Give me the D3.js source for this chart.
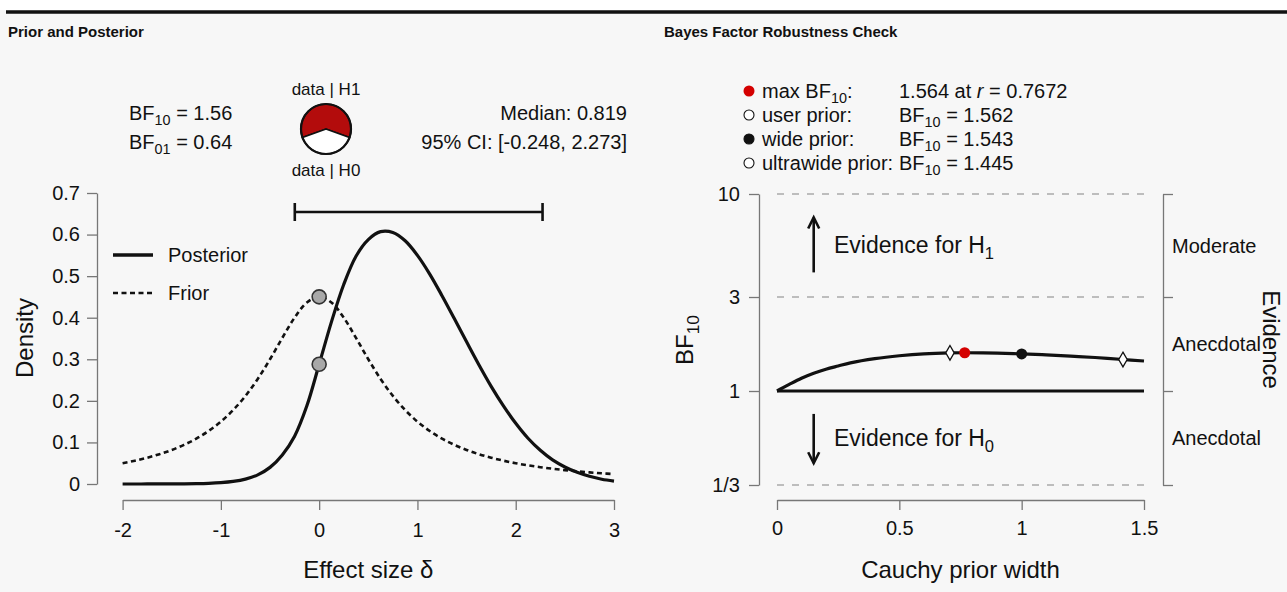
<!DOCTYPE html>
<html><head><meta charset="utf-8">
<script src="https://cdn.jsdelivr.net/npm/d3@7"></script>
<style>
html,body{margin:0;padding:0;background:#fff;}
svg{display:block;}
</style></head><body>
<svg id="chart" width="1287" height="592"></svg>
<script>
// ---------- DATA ----------
const deltaGrid = [-2, -1.875, -1.75, -1.625, -1.5, -1.375, -1.25, -1.125, -1, -0.875, -0.75, -0.625, -0.5, -0.375, -0.25, -0.125, 0,
  0.125, 0.25, 0.375, 0.5, 0.625, 0.75, 0.875, 1, 1.125, 1.25, 1.375, 1.5, 1.625, 1.75, 1.875, 2, 2.125, 2.25, 2.375, 2.5, 2.625, 2.75, 2.875, 3];
const priorDensity = [0.0500, 0.0561, 0.0632, 0.0717, 0.0819, 0.0942, 0.1091, 0.1275, 0.1501, 0.1779, 0.2119, 0.2527, 0.3001, 0.3514, 0.4002, 0.4366, 0.4502,
  0.4366, 0.4002, 0.3514, 0.3001, 0.2527, 0.2119, 0.1779, 0.1501, 0.1275, 0.1091, 0.0942, 0.0819, 0.0717, 0.0632, 0.0561, 0.0500, 0.0449, 0.0405, 0.0367, 0.0333, 0.0305, 0.0279, 0.0257, 0.0237];
const posteriorDensity = [0.0000, 0.0000, 0.0001, 0.0001, 0.0002, 0.0004, 0.0008, 0.0016, 0.0032, 0.0062, 0.0118, 0.0220, 0.0400, 0.0700, 0.1150, 0.1880, 0.2880,
  0.3900, 0.4800, 0.5480, 0.5880, 0.6070, 0.6050, 0.5850, 0.5500, 0.5050, 0.4530, 0.3980, 0.3420, 0.2870, 0.2350, 0.1880, 0.1460, 0.1100, 0.0810, 0.0580, 0.0410, 0.0280, 0.0185, 0.0115, 0.0070];
const densityAtZero = [0.4502, 0.2880];           // prior, posterior at delta = 0
const credibleInterval = [-0.248, 2.273];
const posteriorMedian = 0.819;
const bf10Value = 1.56;
const bf01Value = 0.64;
const leftXTicks = [-2, -1, 0, 1, 2, 3];
const leftYTicks = [0, 0.1, 0.2, 0.3, 0.4, 0.5, 0.6, 0.7];
const legendNames = ["Posterior", "Frior"];

const priorWidths = [0, 0.025, 0.05, 0.1, 0.15, 0.2, 0.25, 0.3, 0.4, 0.5, 0.6, 0.707, 0.7672, 0.9, 1.0, 1.1, 1.2, 1.3, 1.414, 1.5];
const bfRobustness = [1.0, 1.04, 1.08, 1.16, 1.23, 1.29, 1.34, 1.39, 1.46, 1.51, 1.545, 1.562, 1.564, 1.556, 1.543, 1.525, 1.503, 1.479, 1.445, 1.42];
const markerNames = ["max BF10", "user prior", "wide prior", "ultrawide prior"];
const markerR = [0.7672, 0.707, 1, 1.414];
const markerBF = [1.564, 1.562, 1.543, 1.445];
const rightXTicks = [0, 0.5, 1, 1.5];
const rightYTicks = [10, 3, 1, 1/3];
const rightYTickLabels = ["10", "3", "1", "1/3"];
const evidenceBreaks = [10, 3, 1, 1/3];
const evidenceLabels = ["Moderate", "Anecdotal", "Anecdotal"];

// ---------- DRAW ----------
const FONT = '"Liberation Sans", Arial, Helvetica, sans-serif';
const AXC = "#777";
const TXT = "#111";
const svg = d3.select("#chart").attr("font-family", FONT);

svg.append("rect").attr("width", 1287).attr("height", 592).attr("fill", "#f7f7f7");
svg.append("rect").attr("width", 1287).attr("height", 10).attr("fill", "#ffffff");
svg.append("line").attr("x1", 6).attr("x2", 1287).attr("y1", 12).attr("y2", 12)
  .attr("stroke", "#111").attr("stroke-width", 3.5);

svg.append("text").attr("x", 8).attr("y", 37).attr("font-size", 15).attr("font-weight", "bold")
  .attr("fill", TXT).text("Prior and Posterior");
svg.append("text").attr("x", 664).attr("y", 37).attr("font-size", 15).attr("font-weight", "bold")
  .attr("fill", TXT).text("Bayes Factor Robustness Check");

// helper for text with subscripts
function richText(g, x, y, parts, fs, anchor) {
  const t = g.append("text").attr("x", x).attr("y", y).attr("font-size", fs)
    .attr("fill", TXT).attr("text-anchor", anchor || "start");
  let shifted = false;
  parts.forEach(p => {
    const s = t.append("tspan").text(p[0]);
    if (p[1] === "sub") {
      s.attr("font-size", fs * 0.72).attr("dy", shifted ? 0 : fs * 0.24);
      shifted = true;
    } else {
      if (shifted) { s.attr("dy", -fs * 0.24); shifted = false; }
      if (p[1] === "it") s.attr("font-style", "italic");
    }
  });
  return t;
}

function styleAxis(g, fs) {
  g.attr("font-family", FONT).attr("font-size", fs);
  g.select(".domain").attr("stroke", AXC).attr("stroke-width", 1.3);
  g.selectAll(".tick line").attr("stroke", AXC).attr("stroke-width", 1.3);
  g.selectAll(".tick text").attr("fill", TXT);
}

// ===== LEFT PANEL =====
const xL = d3.scaleLinear().domain([-2, 3]).range([122.6, 614]);
const yL = d3.scaleLinear().domain([0, 0.7]).range([484, 193]);

svg.append("g").attr("transform", "translate(97,0)")
  .call(d3.axisLeft(yL).tickValues(leftYTicks).tickSize(10).tickSizeOuter(0).tickPadding(7)
    .tickFormat(d => d === 0 ? "0" : d3.format(".1f")(d)))
  .call(g => styleAxis(g, 20));
svg.append("g").attr("transform", "translate(0,500)")
  .call(d3.axisBottom(xL).tickValues(leftXTicks).tickSize(10).tickSizeOuter(0).tickPadding(13)
    .tickFormat(d => String(d)))
  .call(g => styleAxis(g, 20));

svg.append("text").attr("x", (xL.range()[0] + xL.range()[1]) / 2).attr("y", 578)
  .attr("text-anchor", "middle").attr("font-size", 24).attr("fill", TXT).text("Effect size δ");
svg.append("text").attr("transform", "translate(33,338) rotate(-90)")
  .attr("text-anchor", "middle").attr("font-size", 24).attr("fill", TXT).text("Density");

const densLine = arr => d3.line()
  .x((d, i) => xL(deltaGrid[i])).y(d => yL(d)).curve(d3.curveCatmullRom.alpha(0.5))(arr);

svg.append("path").attr("d", densLine(priorDensity)).attr("fill", "none")
  .attr("stroke", "#111").attr("stroke-width", 2.6).attr("stroke-dasharray", "5,3.5");
svg.append("path").attr("d", densLine(posteriorDensity)).attr("fill", "none")
  .attr("stroke", "#111").attr("stroke-width", 3.2);

svg.selectAll("circle.zero").data(densityAtZero).enter().append("circle")
  .attr("class", "zero").attr("cx", xL(0)).attr("cy", d => yL(d)).attr("r", 7)
  .attr("fill", "#a8a8a8").attr("stroke", "#333").attr("stroke-width", 1.6);

// credible interval bar
const ciY = yL.range()[1] + 19;
const ci = svg.append("g").attr("stroke", "#111").attr("stroke-width", 2.6);
ci.append("line").attr("x1", xL(credibleInterval[0])).attr("x2", xL(credibleInterval[1])).attr("y1", ciY).attr("y2", ciY);
credibleInterval.forEach(v => ci.append("line").attr("x1", xL(v)).attr("x2", xL(v)).attr("y1", ciY - 9).attr("y2", ciY + 9));

// legend
const lg = svg.append("g");
legendNames.forEach((n, i) => {
  const y = 255 + i * 38;
  lg.append("line").attr("x1", 113).attr("x2", 153).attr("y1", y).attr("y2", y)
    .attr("stroke", "#111").attr("stroke-width", i === 0 ? 3.5 : 2.6)
    .attr("stroke-dasharray", i === 0 ? null : "5,3.5");
  lg.append("text").attr("x", 168).attr("y", y + 7).attr("font-size", 20).attr("fill", TXT).text(n);
});

// BF text
richText(svg, 129, 120, [["BF"], ["10", "sub"], [" = " + bf10Value.toFixed(2)]], 20);
richText(svg, 129, 149, [["BF"], ["01", "sub"], [" = " + bf01Value.toFixed(2)]], 20);
svg.append("text").attr("x", 627).attr("y", 120).attr("text-anchor", "end").attr("font-size", 20)
  .attr("fill", TXT).text("Median: " + posteriorMedian.toFixed(3));
svg.append("text").attr("x", 627).attr("y", 149).attr("text-anchor", "end").attr("font-size", 20)
  .attr("fill", TXT).text("95% CI: [" + credibleInterval[0].toFixed(3) + ", " + credibleInterval[1].toFixed(3) + "]");

// pie
const frac = bf10Value / (1 + bf10Value);
const pieArcs = d3.pie().sort(null).startAngle(-Math.PI * frac).endAngle(2 * Math.PI - Math.PI * frac)([bf10Value, 1]);
const arc = d3.arc().innerRadius(0).outerRadius(25);
const pg = svg.append("g").attr("transform", "translate(326,129)");
pg.selectAll("path").data(pieArcs).enter().append("path").attr("d", arc)
  .attr("fill", (d, i) => i === 0 ? "#b30c0c" : "#ffffff").attr("stroke", "#111").attr("stroke-width", 1.6);
pg.append("circle").attr("r", 25).attr("fill", "none").attr("stroke", "#111").attr("stroke-width", 2.2);
svg.append("text").attr("x", 326).attr("y", 95).attr("text-anchor", "middle").attr("font-size", 17).attr("fill", TXT).text("data | H1");
svg.append("text").attr("x", 326).attr("y", 176).attr("text-anchor", "middle").attr("font-size", 17).attr("fill", TXT).text("data | H0");

// ===== RIGHT PANEL =====
const xR = d3.scaleLinear().domain([0, 1.5]).range([777, 1144]);
const yR = d3.scaleLog().domain([1/3, 10]).range([485, 194]);

svg.append("g").attr("transform", "translate(759,0)")
  .call(d3.axisLeft(yR).tickValues(rightYTicks).tickFormat((d, i) => rightYTickLabels[i])
    .tickSize(10).tickSizeOuter(0).tickPadding(9))
  .call(g => styleAxis(g, 20));
svg.append("g").attr("transform", "translate(1163,0)")
  .call(d3.axisRight(yR).tickValues(evidenceBreaks).tickFormat("").tickSize(10).tickSizeOuter(0))
  .call(g => styleAxis(g, 20));
svg.append("g").attr("transform", "translate(0,500)")
  .call(d3.axisBottom(xR).tickValues(rightXTicks).tickFormat(d => String(d))
    .tickSize(10).tickSizeOuter(0).tickPadding(11))
  .call(g => styleAxis(g, 20));

svg.append("text").attr("x", (xR.range()[0] + xR.range()[1]) / 2).attr("y", 578)
  .attr("text-anchor", "middle").attr("font-size", 24).attr("fill", TXT).text("Cauchy prior width");
const bfLab = svg.append("g").attr("transform", "translate(693,340) rotate(-90)");
richText(bfLab, 0, 0, [["BF"], ["10", "sub"]], 24, "middle");

// dashed reference lines
[10, 3, 1/3].forEach(v => {
  svg.append("line").attr("x1", xR(0)).attr("x2", xR(1.5)).attr("y1", yR(v)).attr("y2", yR(v))
    .attr("stroke", "#aaa").attr("stroke-width", 1.6).attr("stroke-dasharray", "7,8");
});
svg.append("line").attr("x1", xR(0)).attr("x2", xR(1.5)).attr("y1", yR(1)).attr("y2", yR(1))
  .attr("stroke", "#111").attr("stroke-width", 3.2);

svg.append("path")
  .attr("d", d3.line().x((d, i) => xR(priorWidths[i])).y(d => yR(d)).curve(d3.curveCatmullRom.alpha(0.5))(bfRobustness))
  .attr("fill", "none").attr("stroke", "#111").attr("stroke-width", 3.2);

// markers
const diamond = d3.symbol().type(d3.symbolDiamond).size(62);
[1, 3].forEach(i => {
  svg.append("path").attr("d", diamond).attr("transform", `translate(${xR(markerR[i])},${yR(markerBF[i])})`)
    .attr("fill", "#fff").attr("stroke", "#111").attr("stroke-width", 1.3);
});
svg.append("circle").attr("cx", xR(markerR[0])).attr("cy", yR(markerBF[0])).attr("r", 5.5).attr("fill", "#d40000");
svg.append("circle").attr("cx", xR(markerR[2])).attr("cy", yR(markerBF[2])).attr("r", 5.5).attr("fill", "#111");

// arrows
const ax = xR(0.15);
function arrow(y1, y2) {
  const dir = y2 < y1 ? 1 : -1;
  svg.append("line").attr("x1", ax).attr("x2", ax).attr("y1", y1).attr("y2", y2)
    .attr("stroke", "#111").attr("stroke-width", 2.6);
  svg.append("path").attr("d", `M${ax - 5.5},${y2 + dir * 11}L${ax},${y2}L${ax + 5.5},${y2 + dir * 11}`)
    .attr("fill", "none").attr("stroke", "#111").attr("stroke-width", 2.6);
}
arrow(yR(4.0), yR(7.6));
arrow(yR(0.765), yR(0.43));
richText(svg, 834, yR(5.5) + 8, [["Evidence for H"], ["1", "sub"]], 23);
richText(svg, 834, yR(0.577) + 8, [["Evidence for H"], ["0", "sub"]], 23);

// evidence labels
evidenceLabels.forEach((lab, i) => {
  const mid = Math.sqrt(evidenceBreaks[i] * evidenceBreaks[i + 1]);
  svg.append("text").attr("x", 1172).attr("y", yR(mid) + 7).attr("font-size", 20).attr("fill", TXT).text(lab);
});
svg.append("text").attr("transform", `translate(1271,${(yR(10) + yR(1/3)) / 2}) rotate(90)`)
  .attr("text-anchor", "middle").attr("dominant-baseline", "central").attr("font-size", 24)
  .attr("fill", TXT).text("Evidence");

// right legend
const legRows = [91, 115, 139, 163];
const legFill = ["#d40000", "#fff", "#111", "#fff"];
markerNames.forEach((n, i) => {
  const y = legRows[i];
  svg.append("circle").attr("cx", 749).attr("cy", y).attr("r", i === 0 ? 5.5 : 5)
    .attr("fill", legFill[i]).attr("stroke", i === 0 ? "none" : "#111").attr("stroke-width", 1.1);
  if (i === 0) {
    richText(svg, 762, y + 7, [["max BF"], ["10", "sub"], [":"]], 20);
    richText(svg, 899, y + 7, [[markerBF[i].toFixed(3) + " at "], ["r", "it"], [" = " + markerR[i]]], 20);
  } else {
    svg.append("text").attr("x", 762).attr("y", y + 7).attr("font-size", 20).attr("fill", TXT).text(n + ":");
    richText(svg, 899, y + 7, [["BF"], ["10", "sub"], [" = " + markerBF[i].toFixed(3)]], 20);
  }
});
</script>
</body></html>
